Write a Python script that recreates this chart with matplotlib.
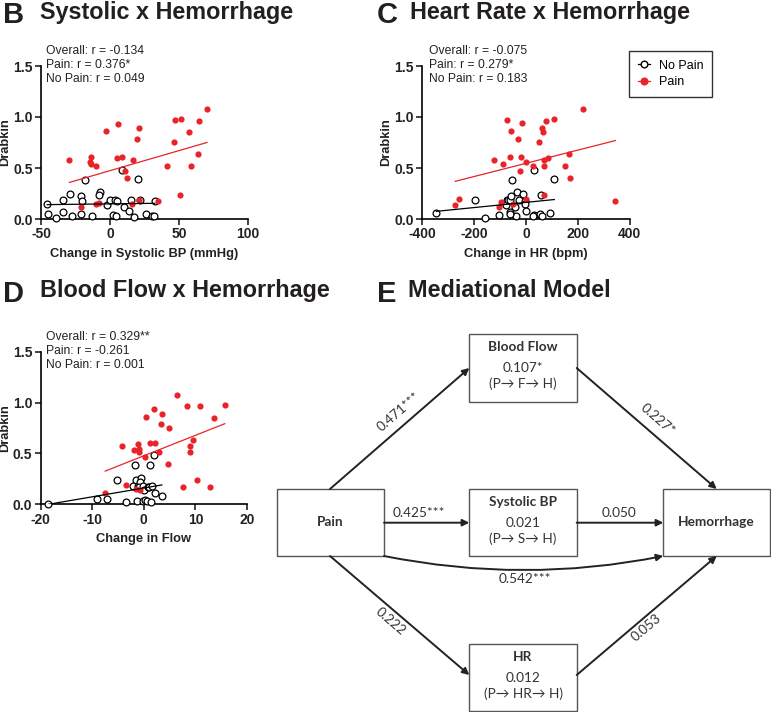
import numpy as np
import matplotlib.pyplot as plt
from matplotlib.lines import Line2D
from matplotlib.patches import Rectangle, FancyArrowPatch

plt.rcParams['font.family'] = ['Liberation Sans', 'DejaVu Sans']
plt.rcParams['axes.unicode_minus'] = False

RED = '#e8242a'
W, H = 771, 712

# ---- B: change in systolic BP vs Drabkin ----
sys_pain_x = [-29.4, -14.1, -14.6, -13.6, -10.0, -2.6, 6.0, 5.0, 8.9, 11.2, 12.0, 20.8, 19.4, 17.0, 41.1,
              46.7, 46.9, 51.2, 57.4, 64.6, 63.9, 58.4, 70.3, 51.0, -21.0, -9.8, -8.1, 16.0, 20.8, 34.7]
sys_pain_y = [0.574, 0.61, 0.557, 0.54, 0.515, 0.862, 0.934, 0.597, 0.61, 0.466, 0.40, 0.895, 0.787, 0.577, 0.515,
              0.754, 0.97, 0.977, 0.849, 0.96, 0.636, 0.515, 1.075, 0.24, 0.118, 0.144, 0.16, 0.15, 0.187, 0.18]
sys_nopain_x = [-45.5, -45.0, -39.2, -34.2, -34.2, -29.2, -27.3, -20.8, -20.6, -20.8, -17.9, -12.7, -7.2, -7.7, -1.9,
                -0.2, 2.2, 4.1, 3.8, 5.0, 8.6, 10.0, 13.6, 15.3, 17.7, 20.3, 22.0, 26.3, 30.4, 32.0, 32.5]
sys_nopain_y = [0.15, 0.052, 0.007, 0.187, 0.069, 0.243, 0.033, 0.226, 0.177, 0.052, 0.387, 0.03, 0.269, 0.236, 0.138,
                0.187, 0.043, 0.026, 0.19, 0.177, 0.482, 0.115, 0.082, 0.187, 0.023, 0.39, 0.187, 0.052, 0.033, 0.033, 0.177]
sys_fit_pain = [0.474, 0.00393]      # intercept, slope
sys_fit_nopain = [0.1485, 0.000167]
sys_stats = ['Overall: r = -0.134', 'Pain: r = 0.376*', 'No Pain: r = 0.049']

# ---- C: change in HR vs Drabkin ----
hr_pain_x = [-273, -258, -123, -87, -73, -58, -62, -31, -17, -18, -24, 1, 26, 50, 63, 65, 79, 108, 69, 68,
             86, 149, 165, 169, 219, 345, -103, -95, -49, 0, 71]
hr_pain_y = [0.141, 0.193, 0.577, 0.541, 0.974, 0.862, 0.61, 0.787, 0.938, 0.61, 0.469, 0.554, 0.521, 0.754,
             0.895, 0.849, 0.96, 0.977, 0.577, 0.515, 0.597, 0.515, 0.636, 0.403, 1.079, 0.177, 0.118, 0.164,
             0.148, 0.193, 0.239]
hr_nopain_x = [-346, -195, -158, -103, -53, -74, -79, -71, -62, -56, -35, -26, -10, -44, -4, -5, -38, -63, -60,
               -1, 31, 29, 26, 53, 62, 59, 91, 109]
hr_nopain_y = [0.056, 0.19, 0.007, 0.036, 0.387, 0.187, 0.141, 0.187, 0.187, 0.226, 0.269, 0.187, 0.243, 0.118,
               0.177, 0.151, 0.026, 0.069, 0.049, 0.082, 0.485, 0.036, 0.03, 0.046, 0.03, 0.239, 0.056, 0.393]
hr_fit_pain = [0.546, 0.000647]
hr_fit_nopain = [0.163, 0.000254]
hr_stats = ['Overall: r = -0.075', 'Pain: r = 0.279*', 'No Pain: r = 0.183']

# ---- D: change in blood flow vs Drabkin ----
flow_pain_x = [-7.5, -4.2, -3.4, -2.0, -1.1, -0.9, -0.9, -1.5, -0.8, 0.3, 0.5, 1.2, 2.0, 2.2, 2.9, 3.5, 3.4,
               4.8, 4.6, 6.5, 8.3, 7.5, 8.9, 9.0, 9.5, 10.8, 10.3, 13.6, 12.9, 15.7]
flow_pain_y = [0.115, 0.574, 0.187, 0.534, 0.597, 0.548, 0.511, 0.148, 0.141, 0.462, 0.862, 0.607, 0.934, 0.607,
               0.515, 0.892, 0.787, 0.754, 0.40, 1.072, 0.964, 0.174, 0.577, 0.515, 0.633, 0.97, 0.236, 0.846,
               0.174, 0.977]
flow_nopain_x = [-18.5, -9.0, -7.2, -5.2, -3.4, -1.7, -1.6, -2.1, -1.2, -0.6, -0.8, -1.3, -1.0, -0.2, 0.1, -0.1,
                 0.3, 0.6, 0.8, 1.0, 1.2, 1.3, 1.6, 1.9, 2.1, 3.5]
flow_nopain_y = [0.0, 0.056, 0.049, 0.236, 0.026, 0.384, 0.239, 0.184, 0.184, 0.259, 0.223, 0.033, 0.174, 0.184,
                 0.141, 0.03, 0.043, 0.03, 0.174, 0.174, 0.39, 0.023, 0.184, 0.482, 0.115, 0.079]
flow_fit_pain = [0.477, 0.0201]
flow_fit_nopain = [0.16, 0.00864]
flow_stats = ['Overall: r = 0.329**', 'Pain: r = -0.261', 'No Pain: r = 0.001']

# ---- E: mediational model ----
med_nodes = ['Pain', 'Blood Flow', 'Systolic BP', 'HR', 'Hemorrhage']
med_indirect = {'Blood Flow': ['0.107*', '(P→ F→ H)'],
                'Systolic BP': ['0.021', '(P→ S→ H)'],
                'HR': ['0.012', '(P→ HR→ H)']}
med_paths = ['0.471***', '0.227*', '0.425***', '0.050', '0.222', '0.053', '0.542***']


fig = plt.figure(figsize=(W / 100, H / 100), dpi=100)

# overlay in pixel coordinates for titles, notes and the diagram
ov = fig.add_axes([0, 0, 1, 1])
ov.set_xlim(0, W)
ov.set_ylim(H, 0)
ov.axis('off')


def scatter_panel(rect, px, py, nx, ny, fit_p, fit_n, xlim, xticks, xlabel):
    l, t, r, b = rect
    ax = fig.add_axes([l / W, 1 - b / H, (r - l) / W, (b - t) / H])
    ax.scatter(nx, ny, s=24, facecolors='white', edgecolors='black', linewidths=0.9, clip_on=False, zorder=3)
    ax.scatter(px, py, s=20, color=RED, linewidths=0, clip_on=False, zorder=4)
    for xs, fit, c in ((nx, fit_n, 'black'), (px, fit_p, RED)):
        xx = np.array([min(xs), max(xs)])
        ax.plot(xx, fit[0] + fit[1] * xx, color=c, lw=0.9, zorder=5)
    ax.set_xlim(*xlim)
    ax.set_ylim(0, 1.5)
    ax.set_xticks(xticks)
    ax.set_yticks([0, 0.5, 1.0, 1.5])
    ax.set_yticklabels(['0.0', '0.5', '1.0', '1.5'])
    for s in ('top', 'right'):
        ax.spines[s].set_visible(False)
    for s in ('left', 'bottom'):
        ax.spines[s].set_linewidth(1.2)
    ax.tick_params(direction='out', length=4, width=1.2, labelsize=10, pad=2, colors='#222222')
    plt.setp(ax.get_xticklabels() + ax.get_yticklabels(), fontweight='bold')
    ax.set_xlabel(xlabel, fontsize=9.3, fontweight='bold', color='#222222')
    ax.set_ylabel('Drabkin', fontsize=9.3, fontweight='bold', color='#222222')
    ax.xaxis.set_label_coords(0.5, -0.19)
    ax.yaxis.set_label_coords(-0.145, 0.5)
    ax.patch.set_alpha(0)
    return ax


axB = scatter_panel((41, 66, 248, 219), sys_pain_x, sys_pain_y, sys_nopain_x, sys_nopain_y,
                    sys_fit_pain, sys_fit_nopain, (-50, 100), [-50, 0, 50, 100], 'Change in Systolic BP (mmHg)')
axC = scatter_panel((422.3, 66, 629.7, 219), hr_pain_x, hr_pain_y, hr_nopain_x, hr_nopain_y,
                    hr_fit_pain, hr_fit_nopain, (-400, 400), [-400, -200, 0, 200, 400], 'Change in HR (bpm)')
axD = scatter_panel((40.7, 351.7, 247, 504.3), flow_pain_x, flow_pain_y, flow_nopain_x, flow_nopain_y,
                    flow_fit_pain, flow_fit_nopain, (-20, 20), [-20, -10, 0, 10, 20], 'Change in Flow')

handles = [Line2D([0], [0], color='black', lw=0.9, marker='o', ms=4.8, mfc='white', mec='black'),
           Line2D([0], [0], color=RED, lw=0.9, marker='o', ms=4.8, mfc=RED, mec=RED)]
leg = axC.legend(handles, ['No Pain', 'Pain'], loc='upper left', bbox_to_anchor=(629 / W, 1 - 51 / H),
                 bbox_transform=fig.transFigure, fontsize=9, frameon=True, fancybox=False,
                 edgecolor='black', handlelength=1.0, handletextpad=0.7, borderpad=0.7, labelspacing=0.35,
                 borderaxespad=0)
leg.get_frame().set_linewidth(1.0)

# panel titles
titles = [(3, 40, 18.5, 'B', 'Systolic x Hemorrhage'),
          (377, 410, 18.5, 'C', 'Heart Rate x Hemorrhage'),
          (3, 40, 297, 'D', 'Blood Flow x Hemorrhage'),
          (377, 408, 297, 'E', 'Mediational Model')]
for xl, xt, yb, letter, txt in titles:
    ov.text(xl, yb + 4.5, letter, fontsize=21, fontweight='bold', va='baseline', ha='left', color='#231f20')
    ov.text(xt, yb, txt, fontsize=16.8, fontweight='bold', va='baseline', ha='left', color='#231f20')

# correlation notes
for x0, top, lines in ((45.5, 66, sys_stats), (429, 66, hr_stats), (45.5, 351.7, flow_stats)):
    for i, s in enumerate(lines):
        ov.text(x0, top - 15 + 14 * i, s, fontsize=8.7, va='center', ha='left', color='#222222')

# ---- mediational diagram ----
DF = ['Lato', 'DejaVu Sans']
TC = '#333333'
FS = 9.8
boxes = {'Pain': (277.3, 489, 384, 556),
         'Blood Flow': (469.3, 334, 576.7, 401.7),
         'Systolic BP': (469.3, 489, 576.7, 556),
         'HR': (469.3, 644, 576.7, 711),
         'Hemorrhage': (663.3, 489, 769.5, 556)}
for name in med_nodes:
    x0, y0, x1, y1 = boxes[name]
    ov.add_patch(Rectangle((x0, y0), x1 - x0, y1 - y0, facecolor='white', edgecolor='#555555', lw=1.0))
    cx = (x0 + x1) / 2
    if name in med_indirect:
        ov.text(cx, y0 + 13, name, family=DF, fontsize=FS, fontweight='bold', ha='center', va='center', color=TC)
        ov.text(cx, y0 + 34, med_indirect[name][0], family=DF, fontsize=FS, ha='center', va='center', color=TC)
        ov.text(cx, y0 + 50, med_indirect[name][1], family=DF, fontsize=FS, ha='center', va='center', color=TC)
    else:
        ov.text(cx, (y0 + y1) / 2, name, family=DF, fontsize=FS, fontweight='bold', ha='center', va='center',
                color=TC)


def arrow(a, b, rad=0.0):
    ov.add_patch(FancyArrowPatch(a, b, arrowstyle='-|>', mutation_scale=10, lw=1.4, color='#222222',
                                 shrinkA=0, shrinkB=0, connectionstyle=f'arc3,rad={rad}'))


arrow((330, 489), (469.3, 368))
arrow((576.7, 368), (716.7, 489))
arrow((384, 522.7), (469.3, 522.7))
arrow((576.7, 522.7), (663.3, 522.7))
arrow((330, 556), (469.3, 675))
arrow((576.7, 675), (716.7, 556))
arrow((384, 556), (663.3, 556), rad=0.1)

path_pos = [(398.3, 411.7, 41), (657.3, 419, -41), (419, 513, 0), (619, 513, 0),
            (390.7, 621.7, -40.6), (646.7, 627.3, 40.4), (525, 579, 0)]
for lab, (x, y, rot) in zip(med_paths, path_pos):
    ov.text(x, y, lab, family=DF, fontsize=FS, ha='center', va='center', rotation=rot,
            rotation_mode='anchor', color=TC)

fig.savefig('out.png', dpi=100)
